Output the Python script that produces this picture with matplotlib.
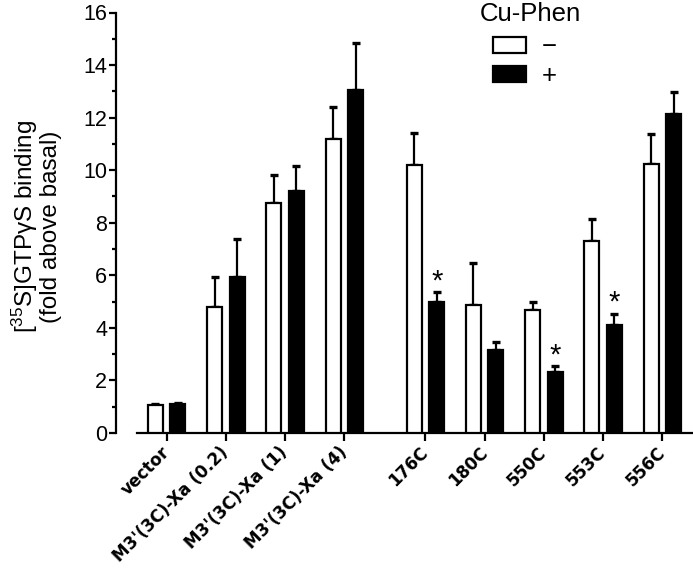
"""
Cu-Phen effect on [35S]GTPgS binding, grouped bars with upper error bars
"""

import numpy as np
import matplotlib
matplotlib.use('Agg')
import matplotlib.pyplot as plt
from matplotlib.ticker import MultipleLocator

# data
groups = ['vector', "M3'(3C)-Xa (0.2)", "M3'(3C)-Xa (1)", "M3'(3C)-Xa (4)",
          '176C', '180C', '550C', '553C', '556C']
positions = [0, 1, 2, 3, 4.37, 5.37, 6.37, 7.37, 8.37]
minus_vals = [1.07, 4.8, 8.75, 11.2, 10.18, 4.88, 4.69, 7.3, 10.22]
minus_err = [0.05, 1.15, 1.05, 1.22, 1.24, 1.6, 0.29, 0.85, 1.15]
plus_vals = [1.1, 5.95, 9.2, 13.05, 5.0, 3.14, 2.31, 4.1, 12.15]
plus_err = [0.05, 1.45, 0.95, 1.8, 0.35, 0.32, 0.23, 0.43, 0.83]
starred = ['176C', '550C', '553C']

plt.rcParams['font.family'] = ['Liberation Sans', 'DejaVu Sans']
plt.rcParams['mathtext.fontset'] = 'custom'
plt.rcParams['mathtext.rm'] = 'Liberation Sans'
plt.rcParams['mathtext.it'] = 'Liberation Sans:italic'


def main():
    fig = plt.figure(figsize=(6.93, 5.73), dpi=100)
    ax = fig.add_axes([137 / 693, 1 - 433 / 573, 555 / 693, 420.5 / 573])

    x = np.array(positions)
    off = 0.19
    w = 0.255
    bars_minus = ax.bar(x - off, minus_vals, w, color='white',
                        edgecolor='black', linewidth=1.6, zorder=3)
    bars_plus = ax.bar(x + off, plus_vals, w, color='black',
                       edgecolor='black', linewidth=1.6, zorder=3)
    zeros = np.zeros(len(groups))
    ax.errorbar(x - off, minus_vals, yerr=[zeros, minus_err], fmt='none',
                ecolor='black', elinewidth=1.6, capsize=2.8, capthick=2.4,
                zorder=2)
    ax.errorbar(x + off, plus_vals, yerr=[zeros, plus_err], fmt='none',
                ecolor='black', elinewidth=1.6, capsize=2.8, capthick=2.4,
                zorder=2)

    # significance marks just above the caps
    for i, g in enumerate(groups):
        if g in starred:
            ax.text(x[i] + off, plus_vals[i] + plus_err[i] + 0.12, '*',
                    ha='center', va='baseline', fontsize=21)

    ax.set_xlim(-0.5, 8.87)
    ax.set_ylim(0, 16)
    ax.spines['top'].set_visible(False)
    ax.spines['right'].set_visible(False)
    ax.spines['left'].set_position(('outward', 15))
    ax.spines['left'].set_bounds(0, 16)
    ax.spines['left'].set_linewidth(1.6)
    ax.spines['bottom'].set_linewidth(1.6)

    ax.yaxis.set_major_locator(MultipleLocator(2))
    ax.yaxis.set_minor_locator(MultipleLocator(1))
    ax.tick_params(axis='y', which='major', length=5, width=1.6,
                   labelsize=15.5, pad=1.5)
    ax.tick_params(axis='y', which='minor', length=3, width=1.6)
    ax.tick_params(axis='x', length=6, width=1.6, pad=6)

    ax.set_xticks(x)
    ax.set_xticklabels(groups, rotation=45, ha='right', va='center',
                       rotation_mode='anchor', family='DejaVu Sans',
                       fontweight='bold', fontsize=12.2)

    ax.set_ylabel('[$^{35}$S]GTP\u03b3S binding\n(fold above basal)',
                  fontsize=17.5, linespacing=1.0)
    ax.yaxis.set_label_coords(-0.135, 0.49)

    fig.text(480 / 693, 1 - 21 / 573, 'Cu-Phen', fontsize=18.5,
             va='baseline', ha='left')
    ax.legend([bars_minus, bars_plus], ['\u2212', '+'], loc='upper left',
              bbox_to_anchor=(493 / 693, 1 - 35 / 573),
              bbox_transform=fig.transFigure, frameon=False, fontsize=18.5,
              borderpad=0, borderaxespad=0, handlelength=1.28,
              handleheight=0.56, handletextpad=0.6, labelspacing=0.2)

    fig.savefig('out.png', dpi=100)


if __name__ == '__main__':
    main()
